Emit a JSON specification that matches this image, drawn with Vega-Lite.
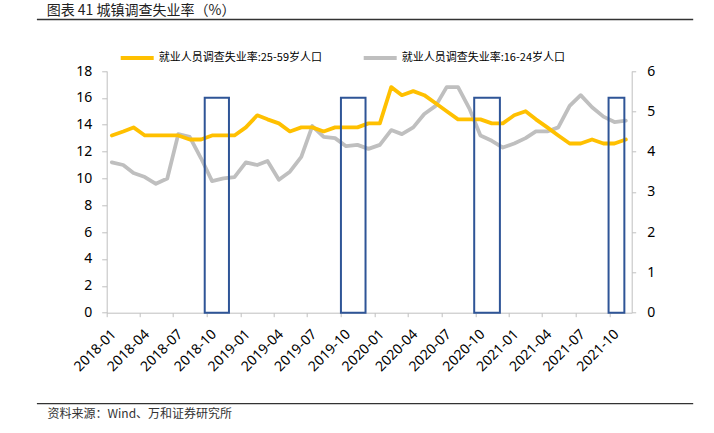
{
  "$schema": "https://vega.github.io/schema/vega-lite/v6.json",
  "width": 656.3,
  "height": 384.2,
  "autosize": {"type": "none"},
  "padding": {"left": 36.7, "top": 19.3, "right": 21, "bottom": 29.5},
  "background": "white",
  "config": {
    "view": {"stroke": "#333333", "strokeWidth": 1.3, "strokeDash": [656.3, 384.2]},
    "axis": {"grid": false, "domainColor": "#BFBFBF", "tickColor": "#BFBFBF", "labelColor": "#000000", "labelFont": "Noto Sans"}
  },
  "title": {"text": "图表 41 城镇调查失业率（%）", "anchor": "start", "frame": "group", "offset": 1, "dx": 10, "fontSize": 14, "font": "Noto Sans CJK SC", "fontWeight": "normal", "color": "#222222"},
  "datasets": {
    "rates": [
      {"date": "2018-01-15", "adult": 4.4, "youth": 11.2},
      {"date": "2018-02-15", "adult": 4.5, "youth": 11.0},
      {"date": "2018-03-15", "adult": 4.6, "youth": 10.4},
      {"date": "2018-04-15", "adult": 4.4, "youth": 10.1},
      {"date": "2018-05-15", "adult": 4.4, "youth": 9.6},
      {"date": "2018-06-15", "adult": 4.4, "youth": 10.0},
      {"date": "2018-07-15", "adult": 4.4, "youth": 13.3},
      {"date": "2018-08-15", "adult": 4.3, "youth": 13.1},
      {"date": "2018-09-15", "adult": 4.3, "youth": 11.5},
      {"date": "2018-10-15", "adult": 4.4, "youth": 9.8},
      {"date": "2018-11-15", "adult": 4.4, "youth": 10.0},
      {"date": "2018-12-15", "adult": 4.4, "youth": 10.1},
      {"date": "2019-01-15", "adult": 4.6, "youth": 11.2},
      {"date": "2019-02-15", "adult": 4.9, "youth": 11.0},
      {"date": "2019-03-15", "adult": 4.8, "youth": 11.3},
      {"date": "2019-04-15", "adult": 4.7, "youth": 9.9},
      {"date": "2019-05-15", "adult": 4.5, "youth": 10.5},
      {"date": "2019-06-15", "adult": 4.6, "youth": 11.6},
      {"date": "2019-07-15", "adult": 4.6, "youth": 13.9},
      {"date": "2019-08-15", "adult": 4.5, "youth": 13.1},
      {"date": "2019-09-15", "adult": 4.6, "youth": 13.0},
      {"date": "2019-10-15", "adult": 4.6, "youth": 12.4},
      {"date": "2019-11-15", "adult": 4.6, "youth": 12.5},
      {"date": "2019-12-15", "adult": 4.7, "youth": 12.2},
      {"date": "2020-01-15", "adult": 4.7, "youth": 12.5},
      {"date": "2020-02-15", "adult": 5.6, "youth": 13.6},
      {"date": "2020-03-15", "adult": 5.4, "youth": 13.3},
      {"date": "2020-04-15", "adult": 5.5, "youth": 13.8},
      {"date": "2020-05-15", "adult": 5.4, "youth": 14.8},
      {"date": "2020-06-15", "adult": 5.2, "youth": 15.4},
      {"date": "2020-07-15", "adult": 5.0, "youth": 16.8},
      {"date": "2020-08-15", "adult": 4.8, "youth": 16.8},
      {"date": "2020-09-15", "adult": 4.8, "youth": 15.2},
      {"date": "2020-10-15", "adult": 4.8, "youth": 13.2},
      {"date": "2020-11-15", "adult": 4.7, "youth": 12.8},
      {"date": "2020-12-15", "adult": 4.7, "youth": 12.3},
      {"date": "2021-01-15", "adult": 4.9, "youth": 12.6},
      {"date": "2021-02-15", "adult": 5.0, "youth": 13.0},
      {"date": "2021-03-15", "adult": 4.8, "youth": 13.5},
      {"date": "2021-04-15", "adult": 4.6, "youth": 13.5},
      {"date": "2021-05-15", "adult": 4.4, "youth": 13.8},
      {"date": "2021-06-15", "adult": 4.2, "youth": 15.4},
      {"date": "2021-07-15", "adult": 4.2, "youth": 16.2},
      {"date": "2021-08-15", "adult": 4.3, "youth": 15.3},
      {"date": "2021-09-15", "adult": 4.2, "youth": 14.6},
      {"date": "2021-10-15", "adult": 4.2, "youth": 14.2},
      {"date": "2021-11-15", "adult": 4.3, "youth": 14.3}
    ],
    "boxes": [
      {"start": "2018-09-25", "end": "2018-11-30", "low": 0, "high": 16},
      {"start": "2019-10-01", "end": "2019-12-07", "low": 0, "high": 16},
      {"start": "2020-09-28", "end": "2020-12-07", "low": 0, "high": 16},
      {"start": "2021-09-29", "end": "2021-11-11", "low": 0, "high": 16}
    ]
  },
  "layer": [
    {
      "data": {"name": "rates"},
      "mark": {"type": "line", "strokeWidth": 3.8, "strokeJoin": "round", "strokeCap": "round"},
      "encoding": {
        "x": {
          "field": "date", "type": "temporal",
          "scale": {"domain": [{"year": 2018, "month": 1, "date": 1}, {"year": 2021, "month": 12, "date": 1}], "range": [70, 595]},
          "axis": {
            "orient": "bottom", "offset": -90.8, "tickCount": {"interval": "month", "step": 3}, "format": "%Y-%m",
            "labelAngle": -45, "labelAlign": "right", "labelBaseline": "middle", "labelFontSize": 14, "labelPadding": 15, "labelOffset": 7,
            "labelOverlap": false, "labelFlush": false, "labelBound": false, "tickSize": 4,
            "title": "资料来源：Wind、万和证券研究所", "titleX": 10.3, "titleY": 100.3, "titleAlign": "left", "titleAnchor": "start", "titleBaseline": "middle",
            "titleFont": "Noto Sans CJK SC", "titleFontSize": 12, "titleFontWeight": "normal", "titleColor": "#333333"
          }
        },
        "y": {
          "field": "youth", "type": "quantitative",
          "scale": {"domain": [0, 18], "range": [293.4, 51.7], "nice": false, "zero": true},
          "axis": {"orient": "left", "offset": -70, "values": [0, 2, 4, 6, 8, 10, 12, 14, 16, 18], "tickSize": 5, "labelPadding": 10, "labelFontSize": 14, "title": null}
        },
        "color": {
          "datum": "就业人员调查失业率:16-24岁人口",
          "scale": {"domain": ["就业人员调查失业率:25-59岁人口", "就业人员调查失业率:16-24岁人口"], "range": ["#FFC000", "#BFBFBF"]},
          "legend": {
            "orient": "none", "legendX": 82, "legendY": 20, "direction": "horizontal", "title": null,
            "symbolType": "stroke", "symbolSize": 1089, "symbolStrokeWidth": 4, "labelLimit": 400,
            "labelFont": "Noto Sans CJK SC", "labelFontSize": 11, "labelColor": "#000000", "labelOffset": 3, "columnPadding": 33
          }
        }
      }
    },
    {
      "data": {"name": "rates"},
      "mark": {"type": "line", "strokeWidth": 3.8, "strokeJoin": "round", "strokeCap": "round"},
      "encoding": {
        "x": {"field": "date", "type": "temporal"},
        "y": {
          "field": "adult", "type": "quantitative",
          "scale": {"domain": [0, 6], "range": [293.4, 51.7], "nice": false, "zero": true},
          "axis": {"orient": "right", "offset": -61.3, "values": [0, 1, 2, 3, 4, 5, 6], "tickSize": 4, "labelPadding": 11, "labelFontSize": 14, "title": null}
        },
        "color": {"datum": "就业人员调查失业率:25-59岁人口"}
      }
    },
    {
      "data": {"name": "boxes"},
      "mark": {"type": "rect", "fillOpacity": 0, "stroke": "#2F5597", "strokeWidth": 2},
      "encoding": {
        "x": {"field": "start", "type": "temporal"},
        "x2": {"field": "end"},
        "y": {"field": "low", "type": "quantitative", "scale": {"domain": [0, 18], "range": [293.4, 51.7], "nice": false}, "axis": null},
        "y2": {"field": "high"}
      }
    }
  ],
  "resolve": {"scale": {"y": "independent"}}
}
